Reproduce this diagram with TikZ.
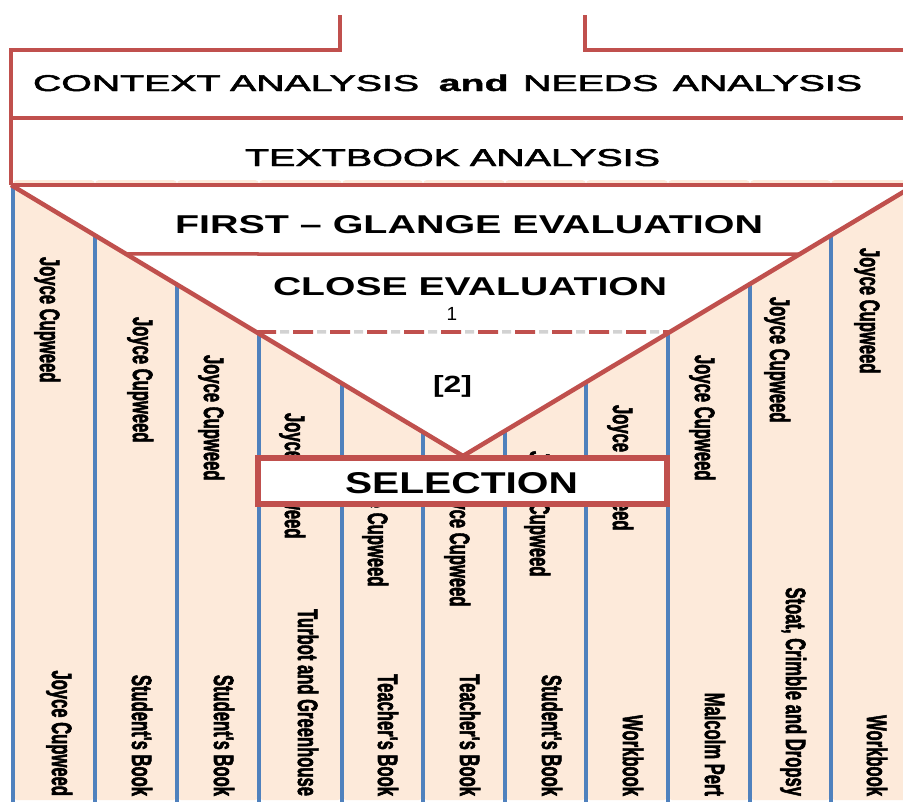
\documentclass[tikz,border=0pt]{standalone}
\usepackage{fontspec}
\setmainfont{Liberation Sans}
\newfontfamily\spinefont[FakeBold=2.5]{Liberation Sans Bold}
\newfontfamily\headfont[FakeBold=2, BoldFeatures={FakeBold=1}]{Liberation Sans}
\usetikzlibrary{calc}

\definecolor{framered}{HTML}{C0504D}
\definecolor{ribblue}{HTML}{4F81BD}
\definecolor{peach}{HTML}{FDEADA}

% condensed spine lettering
\newcommand\spine[1]{\scalebox{0.593}[1]{#1}}

\tikzset{
  frameline/.style={draw=framered, line width=4.5pt},
  vline/.style={draw=framered, line width=4.5pt, line join=miter},
  levelline/.style={draw=framered, line width=3.5pt},
  ribline/.style={draw=ribblue, line width=3.5pt},
  column/.style={fill=peach, draw=none, rounded corners=4pt},
  spinetext/.style={rotate=-90, inner sep=0pt, outer sep=0pt,
    font=\fontsize{28}{28}\spinefont},
  htext/.style={inner sep=0pt, outer sep=0pt, anchor=base west},
  selbox/.style={draw=framered, line width=6pt, fill=white},
}

\begin{document}
\begin{tikzpicture}[x=1pt, y=-1pt]
\useasboundingbox (0,0) rectangle (903,803);
\clip (0,0) rectangle (903,803);
\fill[white] (0,0) rectangle (903,803);

% book columns
\foreach \xa/\xb in {13/95, 95/177, 177/259, 259/342, 342/423, 423/505,
                     505/586, 586/668, 668/750, 750/831, 831/913}
  \path[column] (\xa,180) rectangle (\xb,800);
\foreach \xa in {13, 95, 177, 259, 342, 423, 505, 586, 668, 750, 831}
  \draw[ribline] (\xa,183) -- (\xa,802);

% funnel
\coordinate (vl) at (11,185);
\coordinate (apex) at (463,456);
\coordinate (vr) at (910,188);
\fill[white] (vl) -- (910,185) -- (vr) -- (apex) -- cycle;

% outer frame
\draw[frameline] (340,15) -- (340,50) -- (11,50) -- (vl);
\draw[frameline] (585,15) -- (585,50) -- (910,50);
\draw[frameline] (11,118) -- (910,118);
\draw[frameline] (vl) -- (910,185);

% evaluation levels
\coordinate (fgl) at ($(vl)!0.2546!(apex)$);
\coordinate (fgr) at ($(apex)!0.7537!(vr)$);
\draw[levelline] (fgl) -- (fgr);
\coordinate (cel) at ($(vl)!0.5424!(apex)$);
\coordinate (cer) at ($(apex)!0.4627!(vr)$);
\draw[gray!35, line width=3.5pt, dash pattern=on 9pt off 28pt, dash phase=-24pt] (cel) -- (cer);
\draw[framered, line width=3.8pt, dash pattern=on 20pt off 17pt] (cel) -- (cer);

\draw[vline] (vl) -- (apex) -- (vr);

% headings
\node[htext] (ctx) at (33,91) {\resizebox{829pt}{16.5pt}{\fontsize{22}{22}\headfont
  CONTEXT\hspace{0.24em}ANALYSIS\hspace{0.5em}\textbf{and}\hspace{0.37em}NEEDS\hspace{0.37em}ANALYSIS}};
\node[htext] (tba) at (245,166) {\resizebox{415pt}{17pt}{\fontsize{24}{24}\headfont
  TEXTBOOK\hspace{0.25em}ANALYSIS}};
\node[htext] (fge) at (175,233) {\resizebox{588pt}{18pt}{\fontsize{25}{25}\selectfont\bfseries
  FIRST -- GLANGE EVALUATION}};
\node[htext] (cle) at (273,295) {\resizebox{394pt}{18pt}{\fontsize{25}{25}\selectfont\bfseries
  CLOSE EVALUATION}};
\node[inner sep=0pt, anchor=base] (one) at (452,320) {\fontsize{19}{19}\selectfont 1};
\node[inner sep=0pt, anchor=base] (two) at (452.5,392) {\resizebox{39pt}{17pt}{\fontsize{23}{23}\selectfont\bfseries [2]}};

% authors on the spines
\node[spinetext, anchor=base west] (a1)  at (40,257)  {\spine{Joyce Cupweed}};
\node[spinetext, anchor=base west] (a2)  at (133,317) {\spine{Joyce Cupweed}};
\node[spinetext, anchor=base west] (a3)  at (204,355) {\spine{Joyce Cupweed}};
\node[spinetext, anchor=base west] (a4)  at (285,413) {\spine{Joyce Cupweed}};
\node[spinetext, anchor=base west] (a5)  at (368,461) {\spine{Joyce Cupweed}};
\node[spinetext, anchor=base west] (a6)  at (450,481) {\spine{Joyce Cupweed}};
\node[spinetext, anchor=base west] (a7)  at (530,451) {\spine{Joyce Cupweed}};
\node[spinetext, anchor=base west] (a8)  at (613,405) {\spine{Joyce Cupweed}};
\node[spinetext, anchor=base west] (a9)  at (695,355) {\spine{Joyce Cupweed}};
\node[spinetext, anchor=base west] (a10) at (770,297) {\spine{Joyce Cupweed}};
\node[spinetext, anchor=base west] (a11) at (860,248) {\spine{Joyce Cupweed}};

% titles on the spines
\node[spinetext, anchor=base east] (b1)  at (52,796)  {\spine{Joyce Cupweed}};
\node[spinetext, anchor=base east] (b2)  at (132,796) {\spine{Student's Book}};
\node[spinetext, anchor=base east] (b3)  at (214,796) {\spine{Student's Book}};
\node[spinetext, anchor=base east] (b4)  at (298,796) {\spine{Turbot and Greenhouse}};
\node[spinetext, anchor=base east] (b5)  at (378,796) {\spine{Teacher's Book}};
\node[spinetext, anchor=base east] (b6)  at (460,796) {\spine{Teacher's Book}};
\node[spinetext, anchor=base east] (b7)  at (542,796) {\spine{Student's Book}};
\node[spinetext, anchor=base east] (b8)  at (623,796) {\spine{Workbook}};
\node[spinetext, anchor=base east] (b9)  at (705,796) {\spine{Malcolm Pert}};
\node[spinetext, anchor=base east] (b10) at (786,796) {\spine{Stoat, Crimble and Dropsy}};
\node[spinetext, anchor=base east] (b11) at (867,796) {\spine{Workbook}};

% selection
\draw[selbox] (258,458) rectangle (667,504);
\node[htext] (sel) at (345,493) {\resizebox{233pt}{21pt}{\fontsize{29}{29}\selectfont\bfseries SELECTION}};
\end{tikzpicture}
\end{document}
